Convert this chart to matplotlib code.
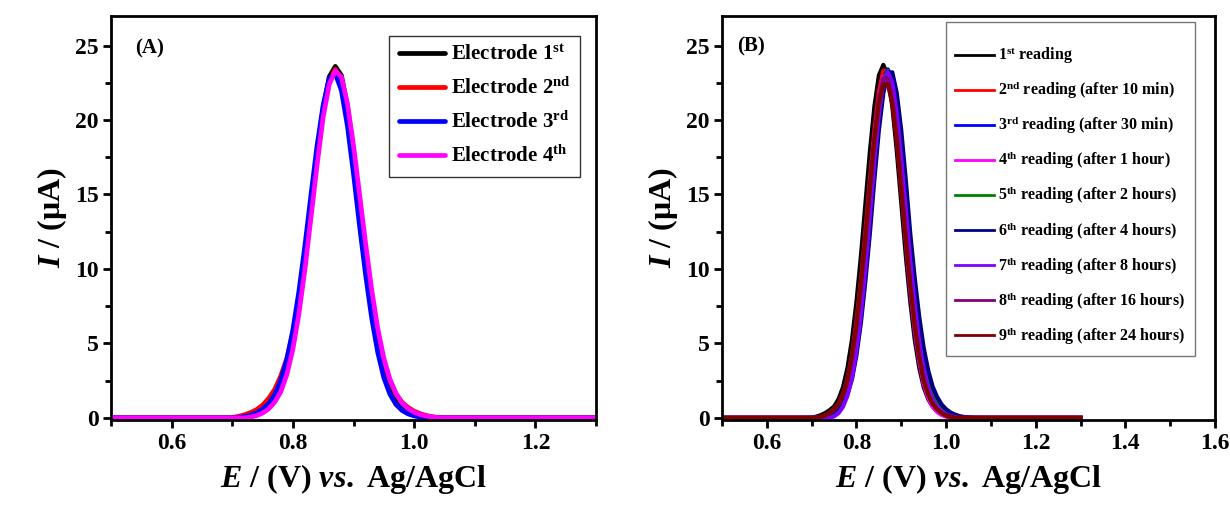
import numpy as np
import matplotlib.pyplot as plt
import matplotlib as mpl

mpl.rcParams.update({
    'font.family':      'Liberation Serif',
    'font.weight':      'bold',
    'axes.labelweight': 'bold',
    'mathtext.fontset': 'custom',
    'mathtext.rm':      'Liberation Serif:bold',
    'mathtext.bf':      'Liberation Serif:bold',
    'mathtext.it':      'Liberation Serif:italic:bold',
    'mathtext.default': 'bf',
    'axes.linewidth':   2.0,
})

# potential grid (V), shared by every curve
E = [0.50, 0.69,
     0.70, 0.71, 0.72, 0.73, 0.74, 0.75, 0.76, 0.77, 0.78, 0.79,
     0.80, 0.81, 0.82, 0.83, 0.84, 0.85, 0.86, 0.87, 0.88, 0.89,
     0.90, 0.91, 0.92, 0.93, 0.94, 0.95, 0.96, 0.97, 0.98, 0.99,
     1.00, 1.01, 1.02, 1.03, 1.04, 1.05, 1.06, 1.07,
     1.30]

# ---- panel A: four electrodes (current, uA)
elec1 = [0, 0,
         0, 0, 0.05, 0.12, 0.24, 0.45, 0.76, 1.25, 2.05, 3.35,
         5.2, 7.8, 10.9, 14.3, 17.8, 20.8, 22.9, 23.6, 23.0, 20.9,
         17.9, 14.4, 11.0, 7.9, 5.3, 3.4, 2.1, 1.28, 0.78, 0.46,
         0.24, 0.12, 0.05, 0, 0, 0, 0, 0,
         0]
elec2 = [0, 0,
         0.02, 0.1, 0.2, 0.35, 0.55, 0.85, 1.3, 1.9, 2.8, 4.0,
         5.7, 8.0, 10.9, 14.1, 17.5, 20.5, 22.6, 23.4, 22.7, 20.7,
         17.8, 14.4, 11.1, 8.1, 5.7, 3.8, 2.5, 1.6, 1.05, 0.7,
         0.45, 0.28, 0.16, 0.08, 0.02, 0, 0, 0,
         0]
elec3 = [0, 0,
         0, 0.02, 0.08, 0.18, 0.33, 0.58, 0.95, 1.55, 2.5, 3.9,
         5.9, 8.5, 11.6, 15.0, 18.3, 21.0, 22.8, 23.1, 22.0, 19.6,
         16.4, 12.9, 9.6, 6.7, 4.4, 2.7, 1.6, 0.9, 0.5, 0.27,
         0.13, 0.06, 0.02, 0, 0, 0, 0, 0,
         0]
elec4 = [0, 0,
         0, 0, 0, 0.05, 0.15, 0.32, 0.6, 1.05, 1.75, 2.9,
         4.6, 7.0, 10.0, 13.5, 17.0, 20.2, 22.4, 23.3, 22.9, 21.1,
         18.3, 15.0, 11.7, 8.6, 6.0, 4.0, 2.6, 1.65, 1.0, 0.62,
         0.38, 0.22, 0.12, 0.06, 0.02, 0, 0, 0,
         0]

# ---- panel B: repeated readings on one electrode
read1 = [0, 0,
         0.02, 0.08, 0.18, 0.32, 0.52, 0.76, 1.26, 2.06, 3.37, 5.26,
         7.8, 10.9, 14.4, 17.9, 20.9, 23.0, 23.7, 23.0, 20.9, 17.9,
         14.4, 10.9, 7.8, 5.26, 3.37, 2.06, 1.26, 0.76, 0.45, 0.24,
         0.12, 0.05, 0, 0, 0, 0, 0, 0,
         0]
read2 = [0, 0,
         0, 0.02, 0.07, 0.16, 0.33, 0.59, 0.96, 1.6, 2.6, 4.2,
         6.5, 9.2, 12.5, 16.0, 19.3, 21.9, 23.3, 23.3, 21.9, 19.3,
         16.0, 12.5, 9.2, 6.5, 4.2, 2.6, 1.6, 0.96, 0.59, 0.33,
         0.16, 0.07, 0.02, 0, 0, 0, 0, 0,
         0]
read3 = [0, 0,
         0, 0, 0.05, 0.12, 0.23, 0.44, 0.75, 1.24, 2.0, 3.3,
         5.2, 7.7, 10.8, 14.2, 17.7, 20.6, 22.7, 23.4, 22.7, 20.7,
         17.9, 14.5, 11.2, 8.1, 5.5, 3.7, 2.5, 1.6, 1.05, 0.68,
         0.42, 0.25, 0.14, 0.07, 0.03, 0.01, 0, 0,
         0]
read4 = [0, 0,
         0, 0, 0.02, 0.08, 0.2, 0.4, 0.75, 1.35, 2.3, 3.8,
         5.9, 8.6, 11.9, 15.4, 18.8, 21.4, 22.9, 22.9, 21.4, 18.8,
         15.4, 11.9, 8.6, 5.9, 3.8, 2.3, 1.35, 0.75, 0.4, 0.2,
         0.08, 0.02, 0, 0, 0, 0, 0, 0,
         0]
read5 = [0, 0,
         0, 0, 0.05, 0.12, 0.23, 0.44, 0.75, 1.24, 2.0, 3.3,
         5.2, 7.7, 10.8, 14.2, 17.6, 20.6, 22.6, 23.3, 22.6, 20.6,
         17.6, 14.2, 10.8, 7.7, 5.4, 3.5, 2.3, 1.45, 0.9, 0.55,
         0.32, 0.17, 0.08, 0.03, 0.01, 0, 0, 0,
         0]
read6 = [0, 0,
         0, 0, 0.02, 0.07, 0.16, 0.33, 0.59, 0.96, 1.6, 2.6,
         4.2, 6.4, 9.2, 12.4, 16.0, 19.3, 21.8, 23.2, 23.2, 21.8,
         19.3, 16.0, 12.4, 9.4, 6.8, 4.7, 3.2, 2.1, 1.4, 0.9,
         0.58, 0.36, 0.22, 0.12, 0.06, 0.03, 0.01, 0,
         0]
read7 = [0, 0,
         0, 0, 0, 0, 0, 0.1, 0.32, 0.75, 1.5, 2.7,
         4.5, 7.0, 10.1, 13.6, 17.2, 20.4, 22.5, 23.2, 22.5, 20.4,
         17.4, 14.0, 10.6, 7.6, 5.1, 3.3, 2.0, 1.2, 0.74, 0.44,
         0.23, 0.12, 0.05, 0, 0, 0, 0, 0,
         0]
read8 = [0, 0,
         0, 0.02, 0.07, 0.16, 0.32, 0.58, 0.94, 1.56, 2.6, 4.1,
         6.3, 9.0, 12.2, 15.7, 18.9, 21.4, 22.8, 22.8, 21.4, 18.9,
         15.7, 12.2, 9.0, 6.3, 4.1, 2.6, 1.56, 0.94, 0.58, 0.32,
         0.16, 0.07, 0.02, 0, 0, 0, 0, 0,
         0]
read9 = [0, 0,
         0, 0.02, 0.07, 0.16, 0.32, 0.57, 0.93, 1.55, 2.5, 4.1,
         6.2, 8.9, 12.0, 15.4, 18.6, 21.1, 22.4, 22.4, 21.1, 18.6,
         15.4, 12.0, 8.9, 6.2, 4.1, 2.5, 1.55, 0.93, 0.57, 0.32,
         0.16, 0.07, 0.02, 0, 0, 0, 0, 0,
         0]

labels_a = ['Electrode 1$^{st}$', 'Electrode 2$^{nd}$',
            'Electrode 3$^{rd}$', 'Electrode 4$^{th}$']
labels_b = ['1$^{st}$ reading',
            '2$^{nd}$ reading (after 10 min)',
            '3$^{rd}$ reading (after 30 min)',
            '4$^{th}$ reading (after 1 hour)',
            '5$^{th}$ reading (after 2 hours)',
            '6$^{th}$ reading (after 4 hours)',
            '7$^{th}$ reading (after 8 hours)',
            '8$^{th}$ reading (after 16 hours)',
            '9$^{th}$ reading (after 24 hours)']

colors_a = ['black', 'red', 'blue', 'magenta']
colors_b = ['black', 'red', 'blue', 'magenta', '#008000',
            '#000080', '#8000ff', '#800080', '#800000']

fig = plt.figure(figsize=(12.3, 5.08), dpi=100)
ax1 = fig.add_axes([0.0902, 0.173, 0.3944, 0.796])
ax2 = fig.add_axes([0.587, 0.173, 0.4008, 0.796])


def style(ax, xmax, xticks):
    ax.set_xlim(0.5, xmax)
    ax.set_ylim(-0.15, 27)
    ax.set_xticks(xticks)
    ax.set_xticks(np.arange(0.5, xmax + 0.001, 0.1), minor=True)
    ax.set_yticks([0, 5, 10, 15, 20, 25])
    ax.set_yticks(np.arange(2.5, 27, 5), minor=True)
    ax.tick_params(which='major', direction='out', length=6, width=2,
                   labelsize=17, pad=3)
    ax.tick_params(which='minor', direction='out', length=4, width=2)
    for t in ax.get_xticklabels() + ax.get_yticklabels():
        t.set_fontweight('bold')
    ax.set_xlabel('$\\mathit{E}$ / (V) $\\mathit{vs.}$ Ag/AgCl',
                  fontsize=23, fontweight='bold', labelpad=6)
    ax.set_ylabel('$\\mathit{I}$ / (\u03bcA)', fontsize=23,
                  fontweight='bold', labelpad=4)


for y, c, lab in zip([elec1, elec2, elec3, elec4], colors_a, labels_a):
    ax1.plot(E, y, color=c, lw=3.4, label=lab, solid_capstyle='round')
style(ax1, 1.3, [0.6, 0.8, 1.0, 1.2])
ax1.set_xticklabels(['0.6', '0.8', '1.0', '1.2'])
ax1.text(0.05, 0.92, '(A)', transform=ax1.transAxes, fontsize=15,
         fontweight='bold', va='center')
leg1 = ax1.legend(loc='upper right', bbox_to_anchor=(0.967, 0.95),
                  borderaxespad=0,
                  fontsize=15, handlelength=2.2, handletextpad=0.3,
                  labelspacing=0.6, borderpad=0.45, frameon=True,
                  fancybox=False, edgecolor='black')
leg1.get_frame().set_linewidth(1.0)

reads = [read1, read2, read3, read4, read5, read6, read7, read8, read9]
for y, c, lab in zip(reads, colors_b, labels_b):
    ax2.plot(E, y, color=c, lw=3.0, label=lab)
style(ax2, 1.6, [0.6, 0.8, 1.0, 1.2, 1.4, 1.6])
ax2.set_xticklabels(['0.6', '0.8', '1.0', '1.2', '1.4', '1.6'])
ax2.text(0.03, 0.925, '(B)', transform=ax2.transAxes, fontsize=15,
         fontweight='bold', va='center')
leg2 = ax2.legend(loc='upper right', bbox_to_anchor=(0.959, 0.985),
                  borderaxespad=0, title=' ', title_fontsize=1,
                  fontsize=11.5, handlelength=2.4, handletextpad=0.3,
                  labelspacing=0.82, borderpad=0.6, frameon=True,
                  fancybox=False, edgecolor='#555555')
leg2.get_frame().set_linewidth(1.0)
for ln in leg2.get_lines():
    ln.set_linewidth(2.0)

fig.savefig('out.png', dpi=100)
